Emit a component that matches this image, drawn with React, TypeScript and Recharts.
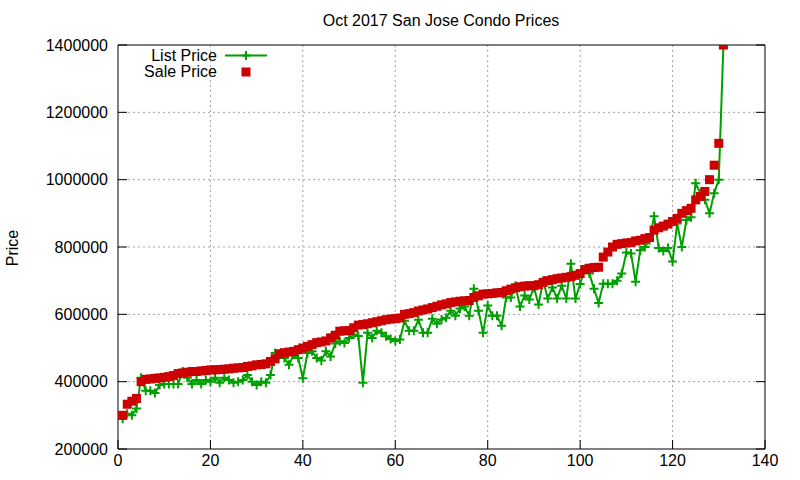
import React from 'react';
import { ComposedChart, Line, XAxis, YAxis, CartesianGrid } from 'recharts';

const listPrice: number[] = [
  290000, 305000, 300000, 320000, 412000, 373000, 373000, 366000, 390000, 393000,
  393000, 393000, 393000, 430000, 412000, 393000, 405000, 393000, 405000, 400000,
  412000, 397000, 412000, 405000, 397000, 400000, 405000, 420000, 400000, 390000,
  400000, 397000, 420000, 485000, 480000, 470000, 450000, 480000, 470000, 410000,
  485000, 490000, 470000, 463000, 490000, 475000, 513000, 520000, 515000, 530000,
  540000, 536000, 397000, 545000, 530000, 551000, 545000, 535000, 527000, 521000,
  525000, 581000, 551000, 551000, 584000, 545000, 545000, 587000, 572000, 585000,
  590000, 611000, 596000, 617000, 623000, 596000, 676000, 611000, 545000, 626000,
  596000, 596000, 566000, 650000, 650000, 685000, 623000, 656000, 644000, 680000,
  629000, 700000, 647000, 680000, 647000, 685000, 647000, 750000, 647000, 690000,
  735000, 721000, 676000, 634000, 691000, 691000, 691000, 700000, 721000, 784000,
  781000, 697000, 790000, 800000, 820000, 891000, 797000, 788000, 797000, 757000,
  870000, 800000, 880000, 888000, 989000, 960000, 940000, 900000, 960000, 1000000,
  1400000,
];

const salePrice: number[] = [
  300000, 333000, 342000, 350000, 400000, 407000, 408000, 410000, 411000, 413000,
  415000, 418000, 424000, 426000, 428000, 430000, 430000, 432000, 433000, 435000,
  435000, 436000, 437000, 438000, 440000, 441000, 442000, 445000, 447000, 450000,
  451000, 453000, 460000, 468000, 483000, 486000, 488000, 490000, 495000, 500000,
  505000, 510000, 516000, 518000, 521000, 530000, 538000, 550000, 551000, 552000,
  560000, 568000, 570000, 572000, 575000, 578000, 581000, 584000, 586000, 587000,
  589000, 600000, 602000, 605000, 610000, 613000, 616000, 620000, 624000, 628000,
  631000, 635000, 637000, 639000, 640000, 641000, 650000, 655000, 660000, 661000,
  662000, 664000, 665000, 670000, 675000, 679000, 682000, 684000, 685000, 685000,
  688000, 695000, 700000, 703000, 706000, 708000, 710000, 712000, 716000, 721000,
  733000, 737000, 739000, 740000, 770000, 785000, 800000, 808000, 810000, 812000,
  813000, 818000, 820000, 825000, 828000, 850000, 857000, 862000, 868000, 876000,
  885000, 900000, 908000, 915000, 940000, 950000, 965000, 1000000, 1043000, 1108000,
  1400000,
];

const xTicks: number[] = [0, 20, 40, 60, 80, 100, 120, 140];
const yTicks: number[] = [200000, 400000, 600000, 800000, 1000000, 1200000, 1400000];

const data = listPrice.map((v, i) => ({ x: i + 1, list: v, sale: salePrice[i] }));

const GREEN = '#00a000';
const RED = '#cc0000';
const FONT = '"Liberation Sans", Arial, sans-serif';

const LeftTick = (props: any) => {
  const { x, y, payload } = props;
  return (
    <g>
      <line x1={x + 10} x2={x + 19} y1={y} y2={y} stroke="#000" strokeWidth={1} />
      <text x={x} y={y} dy="0.36em" textAnchor="end" fontSize={16} fontFamily={FONT} fill="#000">
        {payload.value}
      </text>
    </g>
  );
};

const RightTick = (props: any) => {
  const { x, y } = props;
  return <line x1={x - 9} x2={x} y1={y} y2={y} stroke="#000" strokeWidth={1} />;
};

const BottomTick = (props: any) => {
  const { x, y, payload } = props;
  return (
    <g>
      <line x1={x} x2={x} y1={y} y2={y - 9} stroke="#000" strokeWidth={1} />
      <text x={x} y={y + 17} textAnchor="middle" fontSize={16} fontFamily={FONT} fill="#000">
        {payload.value}
      </text>
    </g>
  );
};

const CrossDot = (props: any) => {
  const { cx, cy, index } = props;
  if (cx == null || cy == null) return <g key={index} />;
  return (
    <path
      key={index}
      d={`M${cx - 4.5},${cy}H${cx + 4.5}M${cx},${cy - 4.5}V${cy + 4.5}`}
      stroke={GREEN}
      strokeWidth={2}
      fill="none"
    />
  );
};

const SquareDot = (props: any) => {
  const { cx, cy, index } = props;
  if (cx == null || cy == null) return <g key={index} />;
  return <rect key={index} x={cx - 4.5} y={cy - 4.5} width={9} height={9} fill={RED} />;
};

export default function App() {
  return (
    <div style={{ position: 'absolute', left: 0, top: 0, width: 800, height: 480, background: '#fff' }}>
      <ComposedChart
        width={800}
        height={480}
        data={data}
        margin={{ top: 44, right: 34, bottom: 1, left: 0 }}
      >
        <CartesianGrid
          stroke="#a0a0a0"
          strokeDasharray="2 3"
          horizontalValues={yTicks.slice(1, -1)}
          verticalValues={xTicks.slice(1, -1)}
        />
        <XAxis
          dataKey="x"
          type="number"
          domain={[0, 140]}
          ticks={xTicks}
          interval={0}
          height={30}
          tickSize={0}
          tickMargin={0}
          tickLine={false}
          axisLine={{ stroke: '#000', strokeWidth: 1 }}
          tick={<BottomTick />}
          allowDataOverflow
        />
        <XAxis
          xAxisId="top"
          orientation="top"
          dataKey="x"
          type="number"
          domain={[0, 140]}
          ticks={xTicks}
          height={1}
          tick={false}
          tickLine={false}
          axisLine={{ stroke: '#000', strokeWidth: 1 }}
          allowDataOverflow
        />
        <YAxis
          type="number"
          domain={[200000, 1400000]}
          ticks={yTicks}
          interval={0}
          width={118}
          tickSize={0}
          tickMargin={10}
          tickLine={false}
          axisLine={{ stroke: '#000', strokeWidth: 1 }}
          tick={<LeftTick />}
          allowDataOverflow
        />
        <YAxis
          yAxisId="right"
          orientation="right"
          type="number"
          domain={[200000, 1400000]}
          ticks={yTicks}
          interval={0}
          width={1}
          tickSize={0}
          tickMargin={0}
          tickLine={false}
          axisLine={{ stroke: '#000', strokeWidth: 1 }}
          tick={<RightTick />}
          allowDataOverflow
        />
        <Line
          type="linear"
          dataKey="list"
          stroke={GREEN}
          strokeWidth={2}
          dot={<CrossDot />}
          activeDot={false}
          isAnimationActive={false}
        />
        <Line
          type="linear"
          dataKey="sale"
          stroke="none"
          dot={<SquareDot />}
          activeDot={false}
          isAnimationActive={false}
        />
        <Line
          yAxisId="right"
          xAxisId="top"
          dataKey="sale"
          stroke="none"
          dot={false}
          activeDot={false}
          legendType="none"
          isAnimationActive={false}
        />
      </ComposedChart>
      <svg
        width={800}
        height={480}
        style={{ position: 'absolute', left: 0, top: 0, pointerEvents: 'none' }}
      >
        <text x={441} y={26} textAnchor="middle" fontSize={16} fontFamily={FONT} fill="#000">
          Oct 2017 San Jose Condo Prices
        </text>
        <text
          x={18}
          y={248}
          textAnchor="middle"
          fontSize={16}
          fontFamily={FONT}
          fill="#000"
          transform="rotate(-90 18 248)"
        >
          Price
        </text>
        <text x={217} y={61} textAnchor="end" fontSize={16} fontFamily={FONT} fill="#000">
          List Price
        </text>
        <line x1={225} x2={267} y1={55.5} y2={55.5} stroke={GREEN} strokeWidth={2} />
        <path d="M241.5,55.5H250.5M246,51V60" stroke={GREEN} strokeWidth={2} fill="none" />
        <text x={217} y={77} textAnchor="end" fontSize={16} fontFamily={FONT} fill="#000">
          Sale Price
        </text>
        <rect x={241.5} y={67.5} width={9} height={9} fill={RED} />
      </svg>
    </div>
  );
}
